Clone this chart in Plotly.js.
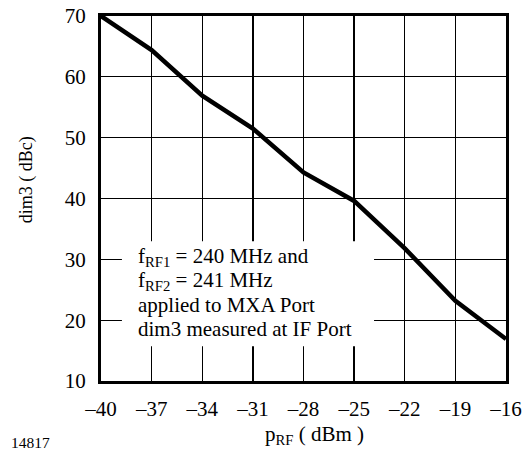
<!DOCTYPE html>
<html>
<head>
<meta charset="utf-8">
<script src="https://cdn.plot.ly/plotly-3.0.1.min.js"></script>
<style>html,body{margin:0;padding:0;background:#fff;}#chart{width:522px;height:455px;}</style>
</head>
<body>
<div id="chart"></div>
<script>
var pRF = [-40, -37, -34, -31, -28, -25, -22, -19, -16];
var dim3 = [70, 64.4, 56.9, 51.5, 44.3, 39.6, 31.8, 23.2, 16.9];
var xTickVals = [-40, -37, -34, -31, -28, -25, -22, -19, -16];
var xTickText = ['\u201340', '\u201337', '\u201334', '\u201331', '\u201328', '\u201325', '\u201322', '\u201319', '\u201316'];
var yTickVals = [10, 20, 30, 40, 50, 60, 70];
var noteLines = ['f<sub>RF1</sub> = 240 MHz and', 'f<sub>RF2</sub> = 241 MHz', 'applied to MXA Port', 'dim3 measured at IF Port'];
var noteY = [30.4, 26.45, 22.45, 18.5];

var FONT = 'Liberation Serif';

var trace = {
  x: pRF, y: dim3, type: 'scatter', mode: 'lines',
  line: {color: '#000', width: 4.5}, hoverinfo: 'none', showlegend: false
};

var annotations = noteLines.map(function (t, i) {
  return {text: t, x: -37.93, y: noteY[i], xref: 'x', yref: 'y', xanchor: 'left', yanchor: 'middle',
          showarrow: false, align: 'left', font: {family: FONT, size: 21, color: '#000'}};
});
annotations.push({text: 'p<sub>RF</sub> ( dBm )', x: 0.526, y: -0.147, xref: 'paper', yref: 'paper',
  xanchor: 'center', yanchor: 'middle', showarrow: false, font: {family: FONT, size: 21, color: '#000'}});
annotations.push({text: 'dim3 ( dBc)', x: -0.185, y: 0.55, xref: 'paper', yref: 'paper', textangle: -90,
  xanchor: 'center', yanchor: 'middle', showarrow: false, font: {family: FONT, size: 18, color: '#000'}});
annotations.push({text: '14817', x: -0.227, y: -0.168, xref: 'paper', yref: 'paper',
  xanchor: 'left', yanchor: 'middle', showarrow: false, font: {family: FONT, size: 15.5, color: '#000'}});

var layout = {
  width: 522, height: 455,
  margin: {l: 101, r: 16, t: 16, b: 74, pad: 0},
  paper_bgcolor: '#fff', plot_bgcolor: '#fff',
  font: {family: FONT, size: 21, color: '#000'},
  xaxis: {
    range: [-40, -16], tickvals: xTickVals, ticktext: xTickText,
    showgrid: true, gridcolor: '#000', gridwidth: 1.3,
    showline: true, linecolor: '#000', linewidth: 3, mirror: true,
    zeroline: false, ticks: '', ticklabelstandoff: 7,
    tickfont: {family: FONT, size: 21, color: '#000'}
  },
  yaxis: {
    range: [10, 70], tickvals: yTickVals,
    showgrid: true, gridcolor: '#000', gridwidth: 1.3,
    showline: true, linecolor: '#000', linewidth: 3, mirror: true,
    zeroline: false, ticks: '', ticklabelstandoff: 8,
    tickfont: {family: FONT, size: 21, color: '#000'}
  },
  shapes: [{type: 'rect', xref: 'x', yref: 'y', x0: -38.76, x1: -23.82, y0: 15.7, y1: 32.96,
            fillcolor: '#fff', line: {width: 0}, layer: 'between'}],
  annotations: annotations
};

Plotly.newPlot('chart', [trace], layout, {displayModeBar: false, staticPlot: true});
</script>
</body>
</html>
